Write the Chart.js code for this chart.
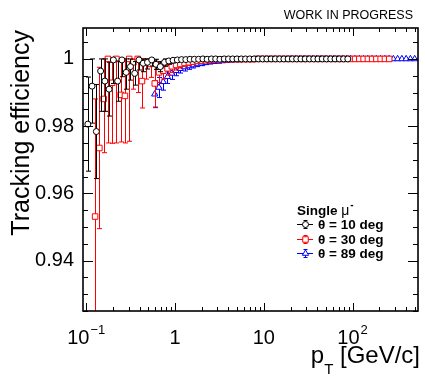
<!DOCTYPE html>
<html>
<head>
<meta charset="utf-8">
<script src="https://cdn.jsdelivr.net/npm/chart.js"></script>
<style>
  html, body { margin: 0; padding: 0; background: #fff; }
  #c { display: block; }
</style>
</head>
<body>
<canvas id="c" width="425" height="377"></canvas>
<script>
// --- データ (θ ごとの pT と効率、誤差) ---
const ptTheta10 = [
  0.1042, 0.1164, 0.1300, 0.1452, 0.1622, 0.1811, 0.2023, 0.2259, 0.2523, 0.2818, 0.3148, 0.3516, 0.3926, 0.4385, 0.4898, 0.5470, 0.6109, 0.6823, 0.7621, 0.8511, 0.9506,
  1.062, 1.186, 1.324, 1.479, 1.652, 1.845, 2.061, 2.301, 2.570, 2.871, 3.206, 3.581, 4.000, 4.467, 4.989, 5.572, 6.223, 6.950, 7.762, 8.670, 9.683,
  10.81, 12.08, 13.49, 15.07, 16.83, 18.79, 20.99, 23.44, 26.18, 29.24, 32.66, 36.48, 40.74, 45.50, 50.82, 56.75, 63.39, 70.79, 79.07, 88.31
];
const effTheta10 = [
  0.9806, 0.9919, 0.9784, 0.9964, 0.9934, 0.9910, 0.9997, 0.9934, 0.9997, 0.9960, 0.9977, 0.9957, 0.9997, 0.9987, 0.9990, 0.9997, 0.9984, 0.9977, 0.9990, 0.9994, 0.9996,
  0.9997, 0.9998, 0.9998, 0.9999, 0.9999, 0.9999, 1.0000, 0.9999, 1.0000, 1.0000, 0.9999, 1.0000, 1.0000, 1.0000, 1.0000, 1.0000, 1.0000, 1.0000, 1.0000, 1.0000, 1.0000,
  1.0000, 1.0000, 1.0000, 1.0000, 1.0000, 1.0000, 1.0000, 1.0000, 1.0000, 1.0000, 1.0000, 1.0000, 1.0000, 1.0000, 1.0000, 1.0000, 1.0000, 1.0000, 1.0000, 1.0000
];
const errTheta10 = [
  0.0140, 0.0110, 0.0140, 0.0120, 0.0090, 0.0080, 0.0070, 0.0060, 0.0050, 0.0050, 0.0040, 0.0035, 0.0030, 0.0025, 0.0020, 0.0018, 0.0015, 0.0015, 0.0012, 0.0010, 0.0008,
  0.0007, 0.0006, 0.0005, 0.0005, 0.0004, 0.0004, 0.0004, 0.0003, 0.0003, 0.0003, 0.0003, 0.0002, 0.0002, 0.0002, 0.0002, 0.0002, 0.0002, 0.0002, 0.0002, 0.0002, 0.0002,
  0.0001, 0.0001, 0.0001, 0.0001, 0.0001, 0.0001, 0.0001, 0.0001, 0.0001, 0.0001, 0.0001, 0.0001, 0.0001, 0.0001, 0.0001, 0.0001, 0.0001, 0.0001, 0.0001, 0.0001
];

const ptTheta30 = [
  0.1259, 0.1406, 0.1570, 0.1754, 0.1959, 0.2188, 0.2443, 0.2729, 0.3048, 0.3404, 0.3802, 0.4246, 0.4742, 0.5297, 0.5916, 0.6607, 0.7379, 0.8241, 0.9204,
  1.028, 1.148, 1.282, 1.432, 1.600, 1.786, 1.995, 2.228, 2.489, 2.780, 3.105, 3.467, 3.873, 4.325, 4.831, 5.395, 6.026, 6.730, 7.516, 8.395, 9.376,
  10.47, 11.69, 13.06, 14.59, 16.29, 18.20, 20.32, 22.70, 25.35, 28.31, 31.62, 35.32, 39.45, 44.06, 49.20, 54.95, 61.38, 68.55, 76.56, 85.51, 95.50,
  106.7, 119.1, 133.0, 148.6, 166.0, 185.4, 207.0, 231.2, 258.2
];
const effTheta30 = [
  0.9531, 0.9735, 0.9881, 1.0000, 0.9929, 1.0000, 0.9893, 0.9890, 1.0000, 0.9990, 1.0000, 0.9934, 0.9990, 0.9985, 0.9927, 0.9960, 0.9965, 0.9972, 0.9978,
  0.9982, 0.9985, 0.9988, 0.9990, 0.9992, 0.9994, 0.9995, 0.9996, 0.9997, 0.9998, 0.9998, 0.9999, 0.9999, 0.9999, 0.9999, 0.9999, 0.9999, 0.9999, 0.9999, 1.0000, 1.0000,
  1.0000, 1.0000, 1.0000, 1.0000, 1.0000, 1.0000, 1.0000, 1.0000, 1.0000, 1.0000, 1.0000, 1.0000, 1.0000, 1.0000, 1.0000, 1.0000, 1.0000, 1.0000, 1.0000, 1.0000, 1.0000,
  1.0000, 1.0000, 1.0000, 1.0000, 1.0000, 1.0000, 1.0000, 1.0000, 1.0000
];
const errTheta30 = [
  0.0350, 0.0240, 0.0160, 0.0250, 0.0180, 0.0250, 0.0140, 0.0140, 0.0245, 0.0080, 0.0100, 0.0080, 0.0050, 0.0040, 0.0070, 0.0030, 0.0025, 0.0020, 0.0018,
  0.0015, 0.0012, 0.0010, 0.0009, 0.0008, 0.0007, 0.0006, 0.0005, 0.0005, 0.0004, 0.0004, 0.0003, 0.0003, 0.0003, 0.0003, 0.0003, 0.0003, 0.0003, 0.0003, 0.0003, 0.0003,
  0.0002, 0.0002, 0.0002, 0.0002, 0.0002, 0.0002, 0.0002, 0.0002, 0.0002, 0.0002, 0.0002, 0.0002, 0.0002, 0.0002, 0.0002, 0.0002, 0.0002, 0.0002, 0.0002, 0.0002, 0.0002,
  0.0002, 0.0002, 0.0002, 0.0002, 0.0002, 0.0002, 0.0002, 0.0002, 0.0002
];

const ptTheta89 = [
  0.5902, 0.6592, 0.7362, 0.8222, 0.9183,
  1.026, 1.146, 1.279, 1.429, 1.596, 1.782, 1.991, 2.223, 2.483, 2.773, 3.097, 3.459, 3.864, 4.315, 4.819, 5.383, 6.012, 6.714, 7.499, 8.375, 9.354,
  10.45, 11.67, 13.03, 14.55, 16.26, 18.16, 20.28, 22.65, 25.29, 28.25, 31.55, 35.24, 39.36, 43.95, 49.09, 54.83, 61.24, 68.39, 76.38, 85.31, 95.28,
  106.4, 118.9, 132.7, 148.3, 165.6, 184.9, 206.5, 230.7, 257.6, 287.7, 321.4, 358.9, 400.9, 447.7, 500.0
];
const effTheta89 = [
  0.9895, 0.9915, 0.9932, 0.9947, 0.9957,
  0.9965, 0.9971, 0.9976, 0.9979, 0.9982, 0.9985, 0.9987, 0.9989, 0.9991, 0.9992, 0.9993, 0.9994, 0.9995, 0.9996, 0.9997, 0.9997, 0.9998, 0.9998, 0.9998, 0.9999, 0.9999,
  0.9999, 0.9999, 0.9999, 0.9999, 0.9999, 0.9999, 1.0000, 1.0000, 1.0000, 1.0000, 1.0000, 1.0000, 1.0000, 1.0000, 1.0000, 1.0000, 1.0000, 1.0000, 1.0000, 1.0000, 1.0000,
  1.0000, 1.0000, 1.0000, 1.0000, 1.0000, 1.0000, 1.0000, 1.0000, 1.0000, 1.0000, 1.0000, 1.0000, 1.0000, 1.0000, 1.0000
];
const errTheta89 = [
  0.0040, 0.0030, 0.0025, 0.0020, 0.0018,
  0.0015, 0.0013, 0.0012, 0.0010, 0.0009, 0.0008, 0.0007, 0.0006, 0.0006, 0.0005, 0.0005, 0.0004, 0.0004, 0.0004, 0.0003, 0.0003, 0.0003, 0.0003, 0.0002, 0.0002, 0.0002,
  0.0001, 0.0001, 0.0001, 0.0001, 0.0001, 0.0001, 0.0001, 0.0001, 0.0001, 0.0001, 0.0001, 0.0001, 0.0001, 0.0001, 0.0001, 0.0001, 0.0001, 0.0001, 0.0001, 0.0001, 0.0001,
  0.0001, 0.0001, 0.0001, 0.0001, 0.0001, 0.0001, 0.0001, 0.0001, 0.0001, 0.0001, 0.0001, 0.0001, 0.0001, 0.0001, 0.0001
];

const seriesLabels = ['θ = 10 deg', 'θ = 30 deg', 'θ = 89 deg'];
const legendHeader = 'Single';

// 目盛り
const yTickValues = [0.94, 0.96, 0.98, 1];
const yTickLabels = ['0.94', '0.96', '0.98', '1'];
const xTickValues = [0.1, 1, 10, 100];
const xTickBases = ['10', '1', '10', '10'];
const xTickExponents = ['\u22121', '', '', '2'];

const FONT = '"Liberation Sans", Arial, Helvetica, sans-serif';

function toPoints(xs, ys) {
  return xs.map((x, i) => ({ x: x, y: ys[i] }));
}

// 凡例などで使う小さなマーカー
function drawMarker(ctx, style, r, x, y, color) {
  ctx.save();
  ctx.fillStyle = '#fff';
  ctx.strokeStyle = color;
  ctx.lineWidth = 1;
  ctx.beginPath();
  if (style === 'circle') {
    ctx.arc(x, y, r, 0, Math.PI * 2);
  } else if (style === 'rect') {
    const s = r * Math.SQRT1_2;
    ctx.rect(x - s, y - s, 2 * s, 2 * s);
  } else {
    ctx.moveTo(x, y - r);
    ctx.lineTo(x + r * 0.866, y + r * 0.5);
    ctx.lineTo(x - r * 0.866, y + r * 0.5);
    ctx.closePath();
  }
  ctx.fill();
  ctx.stroke();
  ctx.restore();
}

// ROOT 風の枠・目盛り・誤差棒を描くプラグイン
const rootStyle = {
  id: 'rootStyle',
  beforeDatasetDraw(chart, args) {
    const ds = chart.data.datasets[args.index];
    const xs = chart.scales.x, ys = chart.scales.y, a = chart.chartArea, ctx = chart.ctx;
    ctx.save();
    ctx.beginPath();
    ctx.rect(a.left, a.top, a.right - a.left, a.bottom - a.top);
    ctx.clip();
    ctx.strokeStyle = ds.borderColor;
    ctx.lineWidth = 1;
    ctx.beginPath();
    ds.data.forEach((p, i) => {
      const e = ds.errors[i];
      const px = Math.round(xs.getPixelForValue(p.x)) + 0.5;
      const py = ys.getPixelForValue(p.y);
      const top = ys.getPixelForValue(Math.min(p.y + e, 1));
      const bot = ys.getPixelForValue(p.y - e);
      ctx.moveTo(px - 2.2, py); ctx.lineTo(px + 2.2, py);
      if (bot - top > 3) {
        ctx.moveTo(px, top); ctx.lineTo(px, bot);
        ctx.moveTo(px - 2.5, top); ctx.lineTo(px + 2.5, top);
        ctx.moveTo(px - 2.5, bot); ctx.lineTo(px + 2.5, bot);
      }
    });
    ctx.stroke();
    ctx.restore();
  },
  afterDraw(chart) {
    const ctx = chart.ctx, a = chart.chartArea, xs = chart.scales.x, ys = chart.scales.y;
    ctx.save();
    ctx.strokeStyle = '#000';
    ctx.fillStyle = '#000';

    // 目盛り (内向き、上下左右)
    ctx.lineWidth = 1;
    ctx.beginPath();
    for (let k = 185; k <= 201; k++) {
      const v = k / 200;
      const py = Math.round(ys.getPixelForValue(v)) + 0.5;
      const major = yTickValues.some(t => Math.abs(t - v) < 1e-6);
      const len = major ? 10 : 5;
      ctx.moveTo(a.left, py); ctx.lineTo(a.left + len, py);
      ctx.moveTo(a.right, py); ctx.lineTo(a.right - len, py);
    }
    for (let e = -2; e <= 3; e++) {
      for (let m = 1; m <= 9; m++) {
        const v = m * Math.pow(10, e);
        if (v < xs.min || v > xs.max) continue;
        const px = Math.round(xs.getPixelForValue(v)) + 0.5;
        const len = m === 1 ? 8 : 4;
        ctx.moveTo(px, a.bottom); ctx.lineTo(px, a.bottom - len);
        ctx.moveTo(px, a.top); ctx.lineTo(px, a.top + len);
      }
    }
    ctx.stroke();

    // 枠
    ctx.lineWidth = 1.6;
    ctx.strokeRect(a.left, a.top, a.right - a.left, a.bottom - a.top);

    // x 軸ラベル (10^n 表記)
    ctx.textAlign = 'left';
    ctx.textBaseline = 'alphabetic';
    xTickValues.forEach((v, i) => {
      const px = xs.getPixelForValue(v);
      ctx.font = '20px ' + FONT;
      const wb = ctx.measureText(xTickBases[i]).width;
      ctx.font = '13px ' + FONT;
      const sup = xTickExponents[i];
      const ws = sup ? ctx.measureText(sup).width + 1 : 0;
      const x0 = px - (wb + ws) / 2;
      ctx.font = '20px ' + FONT;
      ctx.fillText(xTickBases[i], x0, 344);
      if (sup) {
        ctx.font = '13px ' + FONT;
        ctx.fillText(sup, x0 + wb + 1, 334);
      }
    });

    // 軸タイトル
    ctx.save();
    ctx.translate(29, a.top + 2);
    ctx.rotate(-Math.PI / 2);
    ctx.font = '25px ' + FONT;
    ctx.textAlign = 'right';
    ctx.fillText('Tracking efficiency', 0, 0);
    ctx.restore();

    ctx.textAlign = 'right';
    ctx.font = '24px ' + FONT;
    const tail = ' [GeV/c]';
    ctx.fillText(tail, 420, 363);
    const wTail = ctx.measureText(tail).width;
    ctx.font = '15px ' + FONT;
    ctx.fillText('T', 420 - wTail, 374);
    const wT = ctx.measureText('T').width;
    ctx.font = '24px ' + FONT;
    ctx.fillText('p', 420 - wTail - wT, 363);

    // WORK IN PROGRESS
    ctx.font = '12.5px ' + FONT;
    ctx.fillText('WORK IN PROGRESS', 413, 18.5);

    // 凡例
    ctx.textAlign = 'left';
    ctx.font = 'bold 13.5px ' + FONT;
    ctx.fillText(legendHeader, 297, 215);
    const wh = ctx.measureText(legendHeader + ' ').width;
    ctx.font = '14px ' + FONT;
    ctx.fillText('μ', 297 + wh, 215);
    const wm = ctx.measureText('μ').width;
    ctx.font = 'bold 10px ' + FONT;
    ctx.fillText('-', 297 + wh + wm + 1, 208);

    chart.data.datasets.forEach((ds, i) => {
      const yb = 229 + 14.5 * i;
      const yc = Math.round(yb - 5) + 0.5;
      ctx.strokeStyle = ds.borderColor;
      ctx.lineWidth = 1;
      ctx.beginPath();
      ctx.moveTo(297, yc); ctx.lineTo(313, yc);
      ctx.moveTo(305.5, yc - 4); ctx.lineTo(305.5, yc + 4);
      ctx.moveTo(303.5, yc - 4); ctx.lineTo(307.5, yc - 4);
      ctx.moveTo(303.5, yc + 4); ctx.lineTo(307.5, yc + 4);
      ctx.stroke();
      drawMarker(ctx, ds.pointStyle, ds.pointRadius, 305.5, yc, ds.borderColor);
      ctx.fillStyle = '#000';
      ctx.font = 'bold 13.5px ' + FONT;
      ctx.fillText(seriesLabels[i], 318, yb);
    });

    ctx.restore();
  }
};

const ctx = document.getElementById('c').getContext('2d');
new Chart(ctx, {
  type: 'scatter',
  data: {
    datasets: [
      {
        label: seriesLabels[0],
        data: toPoints(ptTheta10, effTheta10),
        errors: errTheta10,
        borderColor: '#000000',
        backgroundColor: '#ffffff',
        pointStyle: 'circle',
        pointRadius: 3,
        pointBorderWidth: 1,
        pointBackgroundColor: '#ffffff',
        pointBorderColor: '#000000'
      },
      {
        label: seriesLabels[1],
        data: toPoints(ptTheta30, effTheta30),
        errors: errTheta30,
        borderColor: '#ff0000',
        backgroundColor: '#ffffff',
        pointStyle: 'rect',
        pointRadius: 3.9,
        pointBorderWidth: 1,
        pointBackgroundColor: '#ffffff',
        pointBorderColor: '#ff0000'
      },
      {
        label: seriesLabels[2],
        data: toPoints(ptTheta89, effTheta89),
        errors: errTheta89,
        borderColor: '#0000ff',
        backgroundColor: '#ffffff',
        pointStyle: 'triangle',
        pointRadius: 3.6,
        pointBorderWidth: 1,
        pointBackgroundColor: '#ffffff',
        pointBorderColor: '#0000ff'
      }
    ]
  },
  options: {
    responsive: false,
    animation: false,
    events: [],
    layout: { padding: { top: 28, right: 7, left: 0, bottom: 0 } },
    plugins: {
      legend: { display: false },
      tooltip: { enabled: false }
    },
    scales: {
      x: {
        type: 'logarithmic',
        min: 0.092,
        max: 545,
        grid: { display: false, drawTicks: false },
        border: { display: false },
        ticks: { display: false },
        afterFit(scale) { scale.height = 66; }
      },
      y: {
        type: 'linear',
        min: 0.925,
        max: 1.0092,
        grid: { display: false, drawTicks: false },
        border: { display: false },
        afterBuildTicks(scale) {
          scale.ticks = yTickValues.map(v => ({ value: v }));
        },
        ticks: {
          autoSkip: false,
          padding: 9,
          color: '#000',
          font: { family: FONT, size: 20 },
          callback(value) {
            const i = yTickValues.findIndex(t => Math.abs(t - value) < 1e-9);
            return i >= 0 ? yTickLabels[i] : '';
          }
        },
        afterFit(scale) { scale.width = 83; }
      }
    }
  },
  plugins: [rootStyle]
});
</script>
</body>
</html>
